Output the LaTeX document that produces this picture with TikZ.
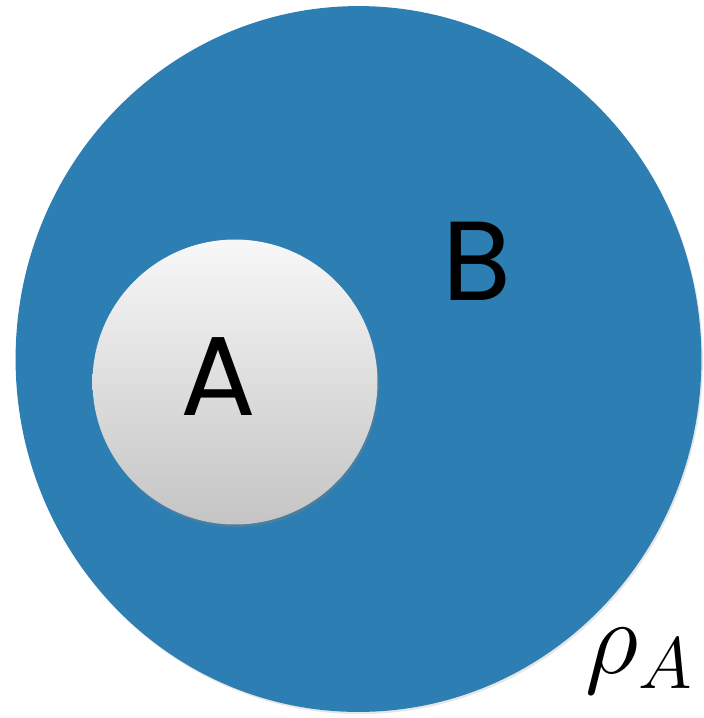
\documentclass[tikz,border=0pt]{standalone}
\usepackage{amsmath}
\usepackage{fontspec}
\newfontfamily\regionfont{Poppins}
\usepackage{tikz}
\usetikzlibrary{shapes.geometric,shadows,positioning}

\definecolor{feltblue}{RGB}{45,127,179}

\begin{document}
\begin{tikzpicture}[
    x=0.02cm, y=-0.02cm,
    whole/.style={ellipse, fill=feltblue, minimum width=13.72cm, minimum height=14.12cm, inner sep=0pt,
        drop shadow={opacity=0.2, shadow xshift=0.8pt, shadow yshift=-1.2pt}},
    subsys/.style={circle, minimum size=5.7cm, inner sep=0pt, top color=gray!6, bottom color=gray!46,
        drop shadow={opacity=0.35, shadow xshift=0.8pt, shadow yshift=-1.5pt}},
    letter/.style={font=\regionfont\fontsize{64}{64}\selectfont, inner sep=0pt, anchor=base}
]
\useasboundingbox (0,0) rectangle (704,718);

% Regions
\node[whole] (B) at (358.5,359) {};
\node[subsys] (A) at (235,382) {};

% Labels
\node[letter] (labA) at (218,415) {A};
\node[letter] (labB) at (477,300) {B};

% Reduced density matrix
\node[inner sep=0pt, anchor=base west, font=\Huge, scale=2.4] (rho) at (585,673) {$\rho_{\scriptscriptstyle A}$};

\end{tikzpicture}
\end{document}
